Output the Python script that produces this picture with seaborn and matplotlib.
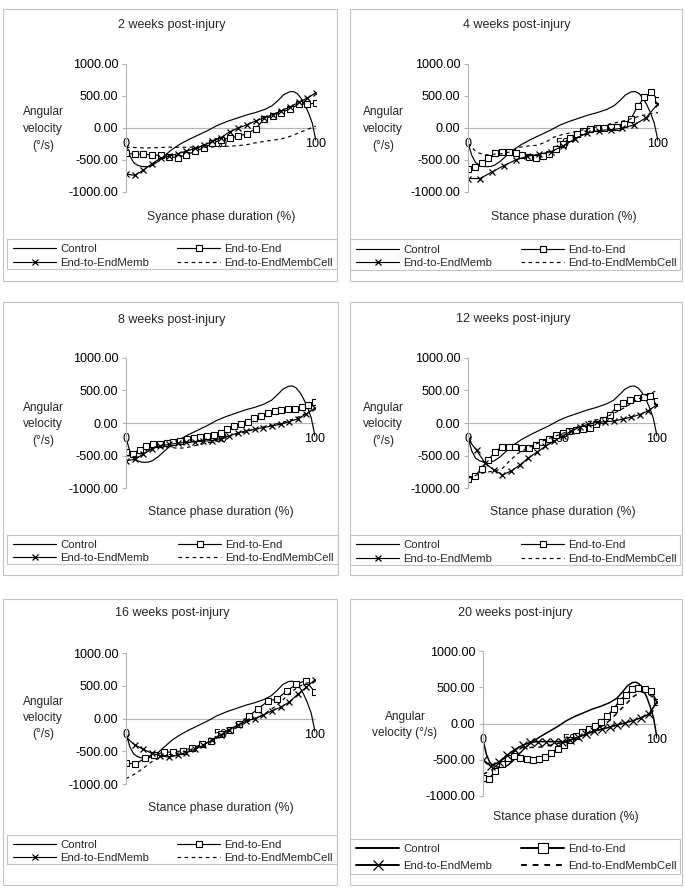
import numpy as np
import matplotlib
matplotlib.use("Agg")
import matplotlib.pyplot as plt
from matplotlib.patches import Rectangle
from matplotlib.ticker import FuncFormatter
import seaborn as sns

sns.set_theme(style="white")
plt.rcParams["font.family"] = ["Liberation Sans", "DejaVu Sans"]

# ---------------- data ----------------
series_names = ["Control", "End-to-End", "End-to-EndMemb", "End-to-EndMembCell"]
titles = ["2 weeks post-injury", "4 weeks post-injury", "8 weeks post-injury",
          "12 weeks post-injury", "16 weeks post-injury", "20 weeks post-injury"]
x_titles = ["Syance phase duration (%)", "Stance phase duration (%)",
            "Stance phase duration (%)", "Stance phase duration (%)",
            "Stance phase duration (%)", "Stance phase duration (%)"]
y_ticks = [-1000, -500, 0, 500, 1000]
x_ticks = [0, 50, 100]

control_x = [0, 2, 4, 6, 8, 10, 12, 14, 17, 20, 24, 28, 33, 38, 43, 48, 53, 58, 63, 68,
             73, 77, 80, 83, 86, 88, 90, 92, 94, 96, 98, 100]
control_y = [-230, -430, -540, -580, -600, -605, -600, -580, -520, -440, -340, -260, -180,
             -110, -40, 40, 100, 150, 200, 240, 290, 350, 430, 520, 565, 570, 540, 470,
             370, 240, 80, -200]

e2e_2w = [-397, -407, -412, -417, -428, -448, -464, -417, -366, -309, -242, -180, -155,
          -129, -88, -15, 144, 191, 242, 299, 371, 376, 387]
memb_2w = [-720, -740, -660, -560, -470, -440, -400, -360, -320, -270, -210, -150, -60, 0,
           50, 110, 160, 210, 270, 330, 400, 470, 550]
cell_2w = [-300, -305, -310, -310, -305, -300, -300, -300, -300, -300, -295, -290, -285,
           -275, -260, -232, -210, -190, -170, -130, -77, -20, 30]

e2e_4w = [-637, -610, -540, -470, -395, -372, -372, -390, -420, -455, -463, -440, -400,
          -330, -250, -150, -90, -45, -20, -5, -5, 15, 20, 65, 140, 340, 480, 560, 440]
memb_4w = [-790, -790, -690, -590, -500, -440, -410, -370, -280, -170, -80, -40, -25, -5,
           50, 160, 380]
cell_4w = [-240, -380, -420, -410, -400, -370, -300, -280, -270, -220, -140, -100, -70,
           -40, -10, 20, 50, 80, 110, 150, 190, 220, 240]

e2e_8w = [-440, -470, -410, -360, -330, -320, -310, -290, -270, -250, -235, -215, -195,
          -180, -160, -90, -50, -20, 10, 70, 110, 150, 180, 200, 210, 220, 240, 280, 320]
memb_8w = [-580, -560, -480, -400, -350, -330, -310, -300, -290, -280, -270, -240, -200,
           -150, -120, -95, -70, -45, -20, 20, 65, 140, 230]
cell_8w = [-500, -520, -450, -380, -360, -370, -390, -380, -350, -320, -290, -250, -210,
           -170, -130, -100, -60, -30, 0, 40, 90, 150, 230]

e2e_12w = [-860, -820, -700, -570, -440, -370, -365, -375, -380, -380, -340, -290, -240,
           -190, -150, -125, -110, -100, -70, -10, 40, 130, 240, 310, 360, 380, 400, 410, 340]
memb_12w = [-250, -420, -620, -720, -800, -740, -650, -540, -450, -360, -280, -200, -130,
            -60, -20, 10, 20, 30, 60, 90, 130, 190, 280]
cell_12w = [-850, -800, -760, -740, -700, -560, -450, -380, -320, -260, -210, -160, -120,
            -40, 20, 50, 90, 150, 220, 300, 380, 440, 500]

e2e_16w = [-685, -690, -610, -555, -515, -510, -490, -450, -395, -345, -240, -170, -90,
           40, 150, 265, 300, 420, 520, 580, 400]
memb_16w = [-290, -400, -470, -530, -570, -590, -560, -520, -470, -410, -330, -250, -170,
            -100, -40, 0, 50, 120, 170, 250, 370, 480, 590]
cell_16w = [-920, -850, -760, -660, -590, -550, -530, -500, -450, -400, -340, -270, -200,
            -130, -60, 0, 60, 150, 250, 380, 480, 540, 570]

e2e_20w = [-750, -760, -660, -560, -480, -450, -470, -495, -500, -495, -460, -400, -350,
           -290, -230, -170, -120, -80, -40, 20, 100, 200, 310, 400, 470, 490, 480, 450, 300]
memb_20w = [-500, -590, -530, -440, -360, -300, -260, -250, -250, -250, -250, -230, -190,
            -150, -110, -80, -50, -20, 10, 40, 80, 130, 300]
cell_20w = [-700, -650, -560, -450, -380, -330, -330, -330, -310, -290, -260, -230, -190,
            -150, -100, -40, 40, 150, 260, 370, 440, 400, 320]

panel_data = [(e2e_2w, memb_2w, cell_2w), (e2e_4w, memb_4w, cell_4w),
              (e2e_8w, memb_8w, cell_8w), (e2e_12w, memb_12w, cell_12w),
              (e2e_16w, memb_16w, cell_16w), (e2e_20w, memb_20w, cell_20w)]

# ---------------- layout (pixels) ----------------
W, H = 685, 888
layout = [
    dict(box=(3, 9, 337, 281), plot=(126, 64, 316, 192), title=(172, 25), ylab=(43, 129),
         xlab=(221, 217), leg=(7, 239, 337, 269), legc=(12, 241, 334, 271),
         ylab_text="Angular\nvelocity\n(°/s)", big=False),
    dict(box=(350, 9, 682, 281), plot=(468, 64, 658, 192), title=(517, 25), ylab=(383, 129),
         xlab=(564, 217), leg=(350, 239, 680, 270), legc=(355, 241, 678, 272),
         ylab_text="Angular\nvelocity\n(°/s)", big=False),
    dict(box=(3, 302, 338, 575), plot=(126, 358, 315, 488), title=(172, 320), ylab=(43, 424),
         xlab=(221, 512), leg=(7, 535, 338, 564), legc=(12, 537, 335, 566),
         ylab_text="Angular\nvelocity\n(°/s)", big=False),
    dict(box=(350, 302, 682, 575), plot=(468, 358, 657, 488), title=(513, 319), ylab=(383, 424),
         xlab=(563, 512), leg=(350, 535, 680, 565), legc=(355, 537, 678, 567),
         ylab_text="Angular\nvelocity\n(°/s)", big=False),
    dict(box=(3, 599, 337, 885), plot=(126, 653, 315, 784), title=(172, 613), ylab=(43, 718),
         xlab=(221, 808), leg=(7, 835, 337, 864), legc=(12, 837, 334, 866),
         ylab_text="Angular\nvelocity\n(°/s)", big=False),
    dict(box=(350, 599, 682, 885), plot=(483, 651, 657, 796), title=(515, 613), ylab=(405, 725),
         xlab=(566, 817), leg=(350, 839, 680, 874), legc=(355, 840, 678, 875),
         ylab_text="Angular\nvelocity (°/s)", big=True),
]

FS_TITLE = 9.0
FS_TICK = 9.1
FS_XLAB = 8.8
FS_YLAB = 8.6
FS_LEG = 8.2
AXC = "#b4b4b4"
BOXC = "#c4c4c4"

fig = plt.figure(figsize=(W / 100, H / 100), dpi=100)
fig.patch.set_facecolor("white")


def fx(px):
    return px / W


def fy(py):
    return 1 - py / H


for i, lay in enumerate(layout):
    big = lay["big"]
    lw = 1.1 if big else 0.85
    ms_sq = 5.0 if big else 3.8
    ms_x = 5.5 if big else 4.8

    # panel border
    l, t, r, b = lay["box"]
    fig.add_artist(Rectangle((fx(l), fy(b)), fx(r) - fx(l), fy(t) - fy(b),
                             transform=fig.transFigure, fill=False, ec=BOXC, lw=0.8))
    # legend border
    l, t, r, b = lay["leg"]
    fig.add_artist(Rectangle((fx(l), fy(b)), fx(r) - fx(l), fy(t) - fy(b),
                             transform=fig.transFigure, fill=False, ec=BOXC, lw=0.8))

    l, t, r, b = lay["plot"]
    ax = fig.add_axes([fx(l), fy(b), fx(r) - fx(l), fy(t) - fy(b)])
    ax.set_facecolor("none")

    e2e, memb, cell = panel_data[i]
    sns.lineplot(x=control_x, y=control_y, ax=ax, color="black", lw=lw,
                 sort=False, legend=False)
    sns.lineplot(x=np.linspace(0, 100, len(e2e)), y=e2e, ax=ax, color="black", lw=lw,
                 marker="s", markersize=ms_sq, markerfacecolor="white",
                 markeredgecolor="black", markeredgewidth=0.8, sort=False, legend=False)
    sns.lineplot(x=np.linspace(0, 100, len(memb)), y=memb, ax=ax, color="black", lw=lw,
                 marker="x", markersize=ms_x, markeredgecolor="black",
                 markeredgewidth=0.9, sort=False, legend=False)
    sns.lineplot(x=np.linspace(0, 100, len(cell)), y=cell, ax=ax, color="black", lw=lw,
                 linestyle=(0, (3, 3)), sort=False, legend=False)
    lines = ax.get_lines()
    for ln, name in zip(lines, series_names):
        ln.set_label(name)

    ax.set_xlim(0, 100)
    ax.set_ylim(-1000, 1000)
    for s in ["top", "right"]:
        ax.spines[s].set_visible(False)
    ax.spines["left"].set_color(AXC)
    ax.spines["left"].set_linewidth(0.8)
    ax.spines["bottom"].set_color(AXC)
    ax.spines["bottom"].set_linewidth(0.8)
    ax.spines["bottom"].set_position(("data", 0))
    ax.spines["bottom"].set_zorder(0.5)
    ax.set_yticks(y_ticks)
    ax.yaxis.set_major_formatter(FuncFormatter(lambda v, p: f"{v:.2f}"))
    ax.set_xticks(x_ticks)
    ax.set_xticklabels([str(v) for v in x_ticks])
    ax.tick_params(axis="y", length=3, width=0.8, color=AXC, pad=2.5, labelsize=FS_TICK,
                   labelcolor="black", direction="out", left=True)
    ax.tick_params(axis="x", length=0, pad=7.5, labelsize=FS_TICK, labelcolor="black",
                   bottom=True)
    ax.set_xlabel("")
    ax.set_ylabel("")
    ax.grid(False)

    # text
    fig.text(fx(lay["title"][0]), fy(lay["title"][1]), titles[i], ha="center",
             va="center", fontsize=FS_TITLE)
    fig.text(fx(lay["xlab"][0]), fy(lay["xlab"][1]), x_titles[i], ha="center",
             va="center", fontsize=FS_XLAB)
    fig.text(fx(lay["ylab"][0]), fy(lay["ylab"][1]), lay["ylab_text"], ha="center",
             va="center", fontsize=FS_YLAB, linespacing=1.5, multialignment="center")

    # legend (content positioned inside the drawn box)
    l, t, r, b = lay["legc"]
    order = [0, 2, 1, 3]
    leg = ax.legend([lines[k] for k in order], [series_names[k] for k in order],
                    ncol=2, loc="center", mode="expand",
                    bbox_to_anchor=(fx(l), fy(b), fx(r) - fx(l), fy(t) - fy(b)),
                    bbox_transform=fig.transFigure, frameon=False,
                    fontsize=FS_LEG, borderpad=0.1,
                    labelspacing=(0.55 if big else 0.3), handlelength=3.8,
                    handletextpad=0.35, borderaxespad=0, columnspacing=2.0,
                    markerscale=(1.3 if big else 1.0))
    if big:
        for h in leg.legend_handles:
            h.set_linewidth(1.4)

fig.savefig("out.png", dpi=100, facecolor="white")
